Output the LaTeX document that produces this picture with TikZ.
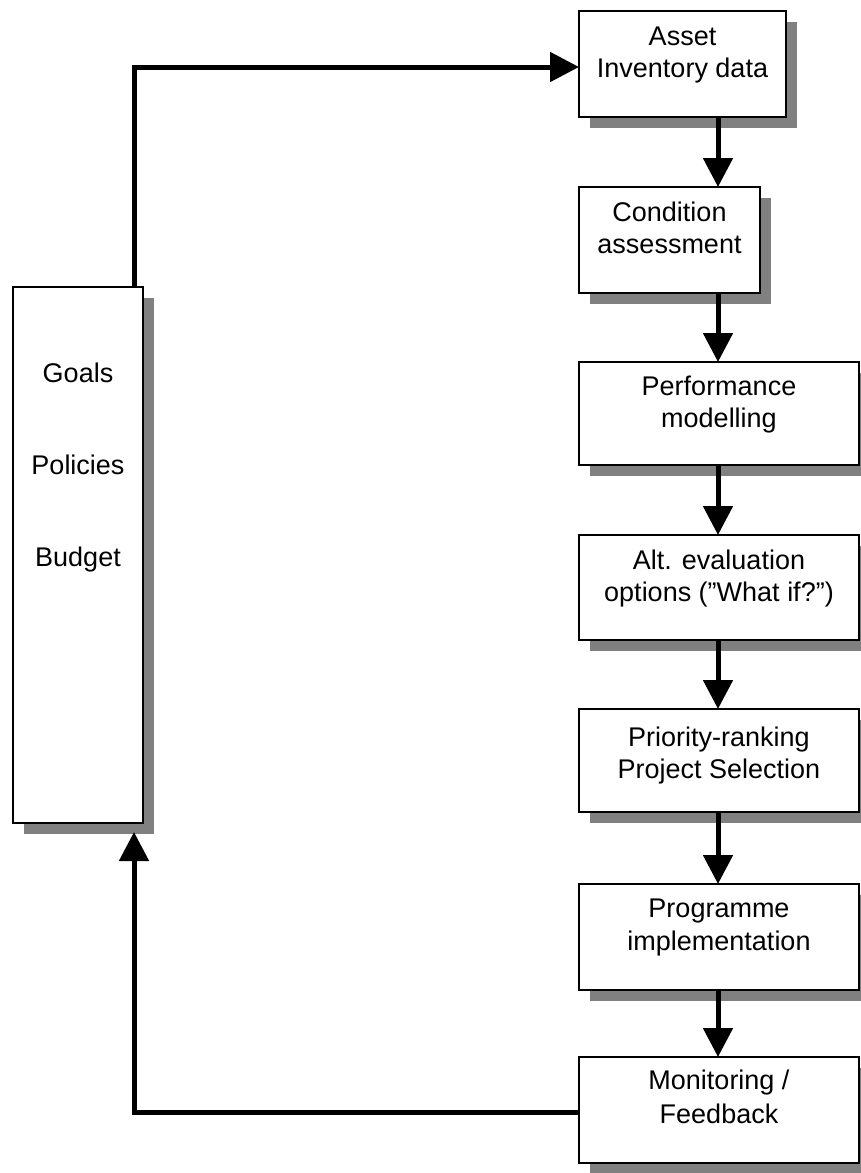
\documentclass[tikz,border=0pt]{standalone}
\usepackage{fontspec}
\setmainfont{Liberation Sans}
\usetikzlibrary{arrows.meta,shadows}
\definecolor{shadowgray}{RGB}{128,128,128}
\tikzset{
  box/.style={draw, line width=2pt, fill=white, rectangle, inner sep=0pt, outer sep=0pt,
    anchor=north west,
    general shadow={fill=shadowgray, shadow xshift=11pt, shadow yshift=-11pt}},
  lbl/.style={anchor=base, inner sep=0pt, font=\fontsize{27}{32}\selectfont},
  conn/.style={line width=5pt, -{Triangle[length=29pt,width=29pt]}}
}
\begin{document}
\begin{tikzpicture}[x=1pt,y=-1pt]
\useasboundingbox (0,0) rectangle (861,1173);
% boxes
\node[box, minimum width=130pt, minimum height=536pt] (L) at (13,287) {};
\node[box, minimum width=207pt, minimum height=106pt] (b1) at (579,11) {};
\node[box, minimum width=181pt, minimum height=106pt] (b2) at (579,187) {};
\node[box, minimum width=280pt, minimum height=103pt] (b3) at (579,362) {};
\node[box, minimum width=280pt, minimum height=105pt] (b4) at (579,535) {};
\node[box, minimum width=280pt, minimum height=103pt] (b5) at (579,709) {};
\node[box, minimum width=280pt, minimum height=106pt] (b6) at (579,884) {};
\node[box, minimum width=280pt, minimum height=106pt] (b7) at (579,1057) {};
% texts
\node[lbl] (tL1) at (78,382) {Goals};
\node[lbl] (tL2) at (78,474) {Policies};
\node[lbl] (tL3) at (78,566) {Budget};
\node[lbl] (t1a) at (682.5,45) {Asset};
\node[lbl] (t1b) at (682.5,77) {Inventory data};
\node[lbl] (t2a) at (669.5,221) {Condition};
\node[lbl] (t2b) at (669.5,253) {assessment};
\node[lbl] (t3a) at (719,395) {Performance};
\node[lbl] (t3b) at (719,427) {modelling};
\node[lbl] (t4a) at (719,569) {Alt. evaluation};
\node[lbl] (t4b) at (719,601) {options (”What if?”)};
\node[lbl] (t5a) at (719,746) {Priority-ranking};
\node[lbl] (t5b) at (719,778) {Project Selection};
\node[lbl] (t6a) at (719,917) {Programme};
\node[lbl] (t6b) at (719,950) {implementation};
\node[lbl] (t7a) at (719,1089) {Monitoring /};
\node[lbl] (t7b) at (719,1123) {Feedback};
% connectors
\coordinate (ax) at (718,0);
\coordinate (fb) at (134,832);
\draw[conn] (b1.south -| ax) -- (b2.north -| ax);
\draw[conn] (b2.south -| ax) -- (b3.north -| ax);
\draw[conn] (b3.south -| ax) -- (b4.north -| ax);
\draw[conn] (b4.south -| ax) -- (b5.north -| ax);
\draw[conn] (b5.south -| ax) -- (b6.north -| ax);
\draw[conn] (b6.south -| ax) -- (b7.north -| ax);
\draw[conn] (L.north -| fb) |- ([yshift=-3pt]b1.west);
\draw[conn] ([yshift=-2pt]b7.west) -| (fb);
\end{tikzpicture}
\end{document}
